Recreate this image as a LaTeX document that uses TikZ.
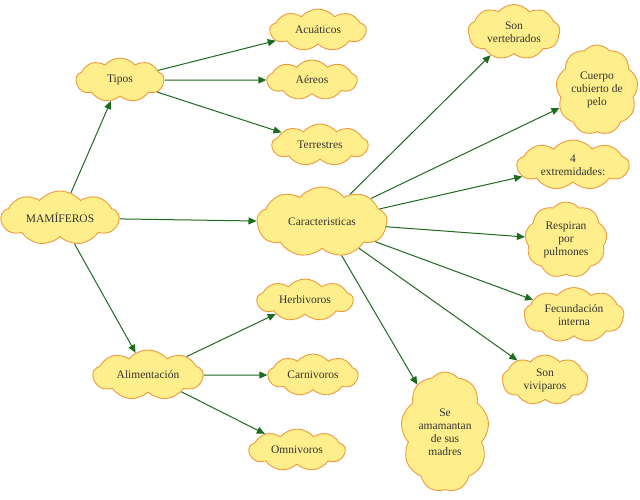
\documentclass[tikz,border=0pt]{standalone}
\usepackage{fontspec}
\setmainfont{Liberation Serif}
\usetikzlibrary{shapes.symbols,arrows.meta}
\definecolor{cfill}{HTML}{FFEF8C}
\definecolor{cdraw}{HTML}{EE9A3A}
\definecolor{agreen}{HTML}{1E6B1E}
\begin{document}
\begin{tikzpicture}[x=1pt,y=-1pt,
  cl/.style={cloud,cloud puffs=9,cloud puff arc=100,cloud ignores aspect,draw=cdraw,fill=cfill,line width=0.9pt,
    font=\fontsize{11.5}{13}\selectfont,align=center,inner sep=0pt,text=black!80},
  ar/.style={draw=agreen,line width=1pt,-{Triangle[length=8pt,width=7pt]}}]
\useasboundingbox (0,0) rectangle (640,499);
\fill[white] (0,0) rectangle (640,499);
\node[cl,minimum width=118,minimum height=54] (m) at (60,218) {MAMÍFEROS};
\node[cl,minimum width=88,minimum height=44] (t) at (120,80) {Tipos};
\node[cl,minimum width=96,minimum height=42] (ac) at (318,30) {Acuáticos};
\node[cl,minimum width=90,minimum height=40] (ae) at (312,80) {Aéreos};
\node[cl,minimum width=96,minimum height=42] (te) at (320,145) {Terrestres};
\node[cl,minimum width=130,minimum height=70] (c) at (322,222) {Caracteristicas};
\node[cl,minimum width=110,minimum height=50] (al) at (148,375) {Alimentación};
\node[cl,minimum width=96,minimum height=42] (h) at (305,300) {Herbivoros};
\node[cl,minimum width=90,minimum height=42] (ca) at (313,375) {Carnivoros};
\node[cl,minimum width=96,minimum height=42] (o) at (297,450) {Omnivoros};
\node[cl,minimum width=92,minimum height=55] (s1) at (514,32) {Son\\vertebrados};
\node[cl,minimum width=82,minimum height=90] (s2) at (597,90) {Cuerpo\\cubierto de\\pelo};
\node[cl,minimum width=112,minimum height=50] (s3) at (573,165) {4\\extremidades:};
\node[cl,minimum width=82,minimum height=76] (s4) at (566,240) {Respiran\\por\\pulmones};
\node[cl,minimum width=100,minimum height=55] (s5) at (574,315) {Fecundación\\interna};
\node[cl,minimum width=86,minimum height=50] (s6) at (545,380) {Son\\viviparos};
\node[cl,minimum width=88,minimum height=120] (s7) at (445,432) {Se\\amamantan\\de sus\\madres};
\draw[ar] (m) -- (t);
\draw[ar] (m) -- (c);
\draw[ar] (m) -- (al);
\draw[ar] (t) -- (ac);
\draw[ar] (t) -- (ae);
\draw[ar] (t) -- (te);
\draw[ar] (al) -- (h);
\draw[ar] (al) -- (ca);
\draw[ar] (al) -- (o);
\foreach \s in {s1,s2,s3,s4,s5,s6,s7} \draw[ar] (c) -- (\s);
\end{tikzpicture}
\end{document}
